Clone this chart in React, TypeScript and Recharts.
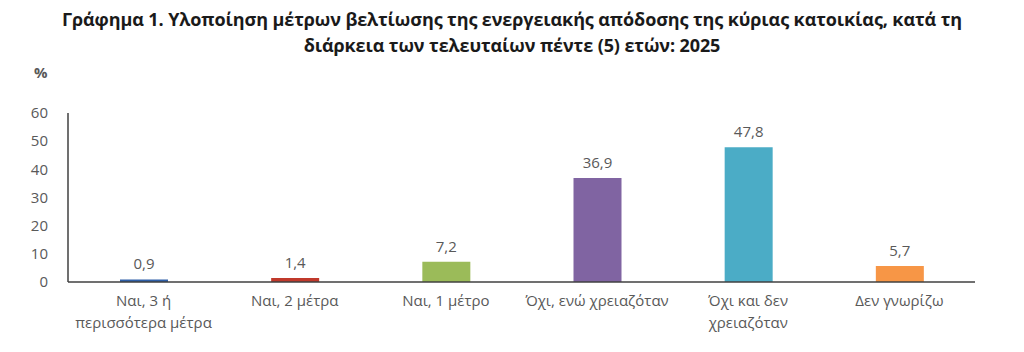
import { Bar, BarChart, Cell, LabelList, XAxis, YAxis } from "recharts";

const categories = [
    "Ναι, 3 ή\nπερισσότερα μέτρα",
    "Ναι, 2 μέτρα",
    "Ναι, 1 μέτρο",
    "Όχι, ενώ χρειαζόταν",
    "Όχι και δεν\nχρειαζόταν",
    "Δεν γνωρίζω",
];

const values = [0.9, 1.4, 7.2, 36.9, 47.8, 5.7];

const yTicks = [0, 10, 20, 30, 40, 50, 60];

const COLORS = ['#2F5FA8', '#C0392B', '#9BBB59', '#8064A2', '#4BACC6', '#F79646'];

const data = categories.map((name, i) => ({ name, value: values[i] }));

const FONT = "'Open Sans', 'Noto Sans', sans-serif";

const CategoryTick = ({ x, y, payload }: { x: number; y: number; payload: { value: string } }) => {
    const lines = String(payload.value).split("\n");
    return (
        <text x={x} y={y + 16} textAnchor="middle" fill="#595959" fontSize={15} fontFamily={FONT}>
            {lines.map((line, i) => (
                <tspan key={i} x={x} dy={i === 0 ? 0 : 22}>{line}</tspan>
            ))}
        </text>
    );
};

const App = () => {
    return (
        <div style={{ position: "absolute", left: 0, top: 0, width: 1024, height: 352, background: "#fff", fontFamily: FONT }}>
            <div style={{ position: "absolute", left: 0, top: 6, width: 1024, textAlign: "center", fontWeight: 700, fontSize: 18, lineHeight: "26px", color: "#1a1a1a", letterSpacing: -0.1 }}>
                Γράφημα 1. Υλοποίηση μέτρων βελτίωσης της ενεργειακής απόδοσης της κύριας κατοικίας, κατά τη<br />
                διάρκεια των τελευταίων πέντε (5) ετών: 2025
            </div>
            <div style={{ position: "absolute", left: 34, top: 62, fontSize: 15, fontWeight: 700, color: "#595959" }}>%</div>
            <BarChart width={1024} height={352} data={data} margin={{ top: 113, right: 49, bottom: 0, left: 8 }}>
                <YAxis
                    domain={[0, 60]}
                    ticks={yTicks}
                    width={60}
                    tickLine={false}
                    axisLine={{ stroke: "#404040", strokeWidth: 1.5 }}
                    tick={{ fill: "#595959", fontSize: 15, fontFamily: FONT }}
                    tickMargin={14}
                />
                <XAxis
                    dataKey="name"
                    height={70}
                    interval={0}
                    tickLine={false}
                    axisLine={{ stroke: "#404040", strokeWidth: 1.5 }}
                    tick={CategoryTick}
                />
                <Bar dataKey="value" barSize={48} isAnimationActive={false}>
                    {data.map((entry, index) => (
                        <Cell key={`cell-${index}`} fill={COLORS[index % COLORS.length]} />
                    ))}
                    <LabelList
                        dataKey="value"
                        position="top"
                        offset={10}
                        fill="#595959"
                        fontSize={15}
                        fontFamily={FONT}
                        formatter={(v: number) => v.toFixed(1).replace(".", ",")}
                    />
                </Bar>
            </BarChart>
        </div>
    );
};

export default App;
